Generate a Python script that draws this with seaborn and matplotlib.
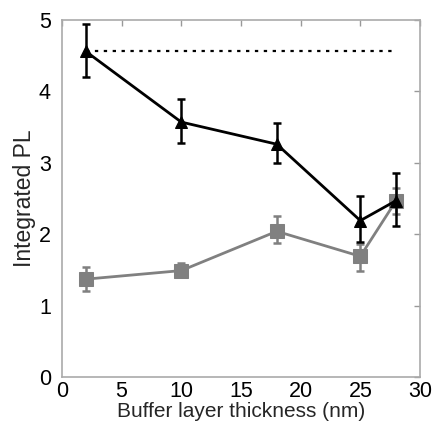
import matplotlib
matplotlib.use("Agg")
import matplotlib.pyplot as plt
import seaborn as sns
import pandas as pd
import numpy as np

thickness = [2, 10, 18, 25, 28]
black_pl = [4.56, 3.57, 3.26, 2.19, 2.47]
black_err_lo = [4.20, 3.27, 2.99, 1.89, 2.11]
black_err_hi = [4.94, 3.90, 3.56, 2.53, 2.85]
gray_pl = [1.37, 1.49, 2.04, 1.69, 2.47]
gray_err_lo = [1.20, 1.40, 1.87, 1.49, 2.28]
gray_err_hi = [1.54, 1.60, 2.25, 1.86, 2.65]
ref_level = 4.57
x_ticks = [0, 5, 10, 15, 20, 25, 30]
y_ticks = [0, 1, 2, 3, 4, 5]

sns.set_style("white")
plt.rcParams['font.family'] = ['Liberation Sans', 'DejaVu Sans']

fig = plt.figure(figsize=(4.33, 4.25), dpi=100)
ax = fig.add_axes([0.143, 0.113, 0.827, 0.840])

df_b = pd.DataFrame({"x": thickness, "y": black_pl})
df_g = pd.DataFrame({"x": thickness, "y": gray_pl})

gray_c = "#808080"
sns.lineplot(data=df_g, x="x", y="y", ax=ax, color=gray_c, lw=2, marker="s",
             markersize=10, markeredgecolor=gray_c, zorder=3)
ax.errorbar(thickness, gray_pl,
            yerr=[np.array(gray_pl) - np.array(gray_err_lo), np.array(gray_err_hi) - np.array(gray_pl)],
            fmt="none", ecolor=gray_c, elinewidth=1.8, capsize=3, capthick=1.8, zorder=3)

sns.lineplot(data=df_b, x="x", y="y", ax=ax, color="black", lw=2, marker="^",
             markersize=9, markeredgecolor="black", zorder=4)
ax.errorbar(thickness, black_pl,
            yerr=[np.array(black_pl) - np.array(black_err_lo), np.array(black_err_hi) - np.array(black_pl)],
            fmt="none", ecolor="black", elinewidth=1.8, capsize=3, capthick=1.8, zorder=4)

ax.plot([thickness[0], thickness[-1]], [ref_level, ref_level], ls=(0, (1.5, 2.5)),
        color="black", lw=1.6, zorder=2)

ax.set_xlim(0, 30)
ax.set_ylim(0, 5)
ax.set_xticks(x_ticks)
ax.set_yticks(y_ticks)
ax.tick_params(direction="in", length=4, width=1, colors="#999999", top=True, right=True,
               labelsize=15.5, labelcolor="black")
ax.tick_params(axis="x", pad=3)
ax.tick_params(axis="y", pad=8)
for s in ax.spines.values():
    s.set_color("#aaaaaa")
    s.set_linewidth(1.2)
ax.set_xlabel("Buffer layer thickness (nm)", fontsize=15, labelpad=0)
ax.set_ylabel("Integrated PL", fontsize=16.5, labelpad=2)

fig.savefig("out.png", dpi=100)
